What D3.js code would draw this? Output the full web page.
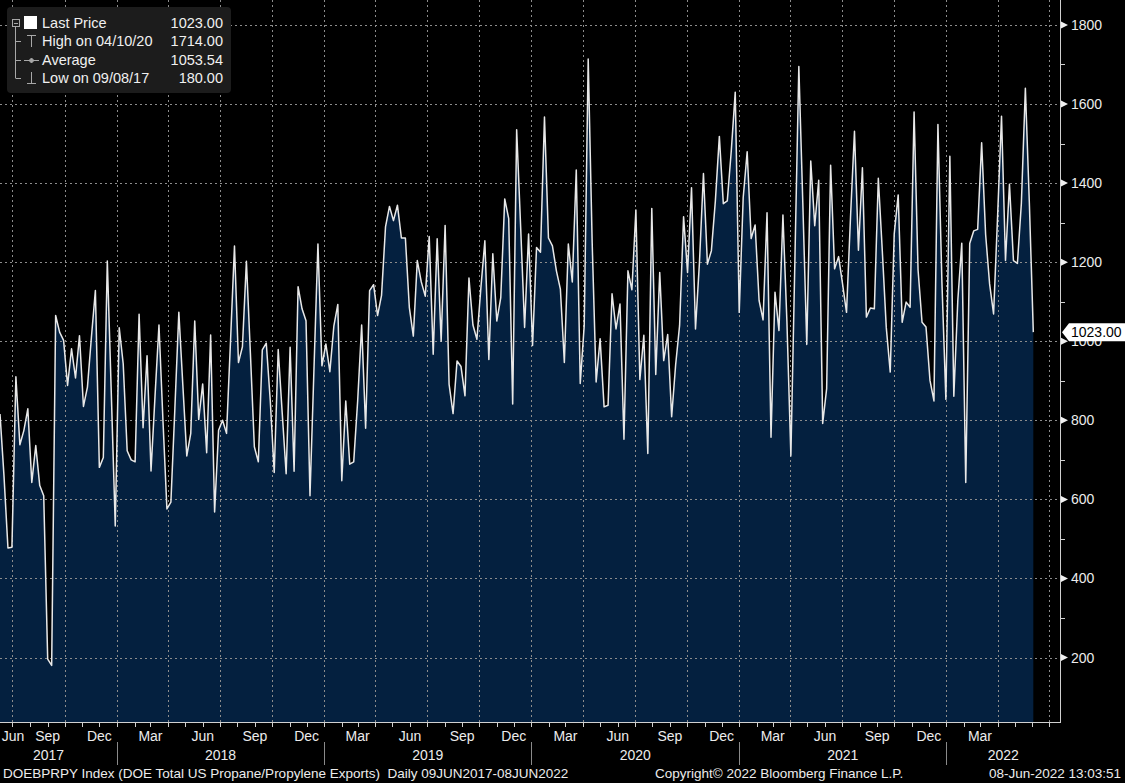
<!DOCTYPE html>
<html>
<head>
<meta http-equiv="Content-Type" content="text/html;charset=utf-8">
<script type="text/javascript" src="https://cdn.jsdelivr.net/npm/d3@7"></script>
<style>
  body { margin: 0; background: #000; }
  svg { display: block; font-family: "Liberation Sans", Arial, sans-serif; }
</style>
</head>
<body>
<div id="chart"></div>
<script type="text/javascript">

// weekly DOE propane/propylene exports, first week ending 09 Jun 2017
var startDate = "2017-06-09";
var endDate = "2022-07-20";
var weeklyExports = [
  816, 660, 477, 479, 910, 738, 774, 829, 643, 736, 635, 609, 196, 180, 1065, 1023, 1002, 888, 981, 907,
  1014, 835, 884, 1010, 1128, 681, 706, 1203, 870, 533, 1034, 943, 723, 700, 695, 1068, 781, 963, 672, 860,
  1041, 800, 576, 593, 830, 1073, 890, 710, 767, 1051, 802, 892, 718, 1016, 568, 775, 800, 767, 1000, 1241,
  946, 986, 1202, 970, 733, 695, 978, 995, 850, 668, 979, 820, 665, 985, 671, 1138, 1082, 1052, 609, 930,
  1246, 938, 993, 923, 1038, 1093, 647, 849, 689, 695, 850, 1041, 780, 1128, 1143, 1065, 1116, 1289, 1341, 1305,
  1344, 1261, 1261, 1085, 1013, 1204, 1150, 1114, 1265, 967, 1259, 1000, 1293, 891, 817, 950, 936, 862, 1160, 1041,
  1005, 1135, 1254, 954, 1221, 1051, 1110, 1360, 1310, 841, 1535, 1290, 1035, 1271, 989, 1237, 1225, 1567, 1261, 1241,
  1178, 1132, 946, 1246, 1150, 1433, 893, 1040, 1714, 1250, 897, 1006, 834, 838, 1120, 1031, 1094, 752, 1178, 1130,
  1332, 903, 1015, 716, 1336, 916, 1174, 951, 1017, 809, 940, 1040, 1315, 1174, 1388, 1031, 1200, 1424, 1195, 1229,
  1355, 1518, 1348, 1355, 1481, 1630, 1073, 1363, 1479, 1260, 1294, 1103, 1054, 1325, 757, 1124, 1027, 1319, 1050, 710,
  1200, 1695, 1350, 992, 1456, 1292, 1407, 792, 880, 1445, 1183, 1214, 1145, 1073, 1313, 1531, 1230, 1439, 1061, 1084,
  1082, 1412, 1229, 1035, 922, 1271, 1370, 1048, 1099, 1086, 1580, 1180, 1048, 1036, 901, 849, 1548, 1150, 853, 1468,
  861, 1103, 1248, 643, 1247, 1279, 1283, 1502, 1270, 1145, 1069, 1313, 1569, 1204, 1397, 1204, 1197, 1350, 1640, 1350,
  1023
];

var yTicks = [200, 400, 600, 800, 1000, 1200, 1400, 1600, 1800];
var yMinorTicks = [300, 500, 700, 900, 1100, 1300, 1500, 1700];
var monthNames = ["Jan", "Feb", "Mar", "Apr", "May", "Jun", "Jul", "Aug", "Sep", "Oct", "Nov", "Dec"];
var labelMonths = [2, 5, 8, 11];

var legendLabels = ["Last Price", "High on 04/10/20", "Average", "Low on 09/08/17"];
var legendValues = ["1023.00", "1714.00", "1053.54", "180.00"];
var lastPrice = 1023;

var footerLeft = "DOEBPRPY Index (DOE Total US Propane/Propylene Exports)  Daily 09JUN2017-08JUN2022";
var footerMid = "Copyright\u00A9 2022 Bloomberg Finance L.P.";
var footerRight = "08-Jun-2022 13:03:51";

var width = 1125;
var height = 783;
var plotRight = 1060;
var plotBottom = 722;

var parse = d3.timeParse("%Y-%m-%d");
var t0 = parse(startDate);
var t1 = parse(endDate);

var data = weeklyExports.map(function (v, i) {
  return { date: d3.timeDay.offset(t0, 7 * i), value: v };
});
var lastDate = data[data.length - 1].date;

var x = d3.scaleTime().domain([t0, t1]).range([0, plotRight]);
var y = d3.scaleLinear().domain([37, 1863]).range([plotBottom, 0]);

var svg = d3.select("#chart").append("svg")
    .attr("width", width)
    .attr("height", height)
    .style("background", "#000");

// area under the line
var area = d3.area()
    .x(function (d) { return x(d.date); })
    .y0(plotBottom)
    .y1(function (d) { return y(d.value); });

svg.append("path")
    .datum(data)
    .attr("d", area)
    .attr("fill", "#04203f");

// dotted grid
var grid = svg.append("g")
    .attr("stroke", "#8c8c8c")
    .attr("stroke-width", 1)
    .attr("stroke-dasharray", "2,3");

grid.selectAll(".hgrid")
    .data(yTicks)
    .enter().append("line")
    .attr("class", "hgrid")
    .attr("x1", 0)
    .attr("x2", plotRight)
    .attr("y1", function (d) { return Math.round(y(d)) + 0.5; })
    .attr("y2", function (d) { return Math.round(y(d)) + 0.5; });

var quarters = d3.timeMonth.every(3).range(t0, t1);
grid.selectAll(".vgrid")
    .data(quarters)
    .enter().append("line")
    .attr("class", "vgrid")
    .attr("x1", function (d) { return Math.round(x(d)) + 0.5; })
    .attr("x2", function (d) { return Math.round(x(d)) + 0.5; })
    .attr("y1", 0)
    .attr("y2", plotBottom);

// price line
var line = d3.line()
    .x(function (d) { return x(d.date); })
    .y(function (d) { return y(d.value); });

svg.append("path")
    .datum(data)
    .attr("d", line)
    .attr("fill", "none")
    .attr("stroke", "#e8e8e8")
    .attr("stroke-width", 1.5)
    .attr("stroke-linejoin", "round");

// axes frame
svg.append("line")
    .attr("x1", plotRight + 0.5).attr("x2", plotRight + 0.5)
    .attr("y1", 0).attr("y2", plotBottom)
    .attr("stroke", "#d0d0d0");
svg.append("line")
    .attr("x1", 0).attr("x2", plotRight + 1)
    .attr("y1", plotBottom + 0.5).attr("y2", plotBottom + 0.5)
    .attr("stroke", "#d0d0d0");

// right axis ticks
svg.selectAll(".minor")
    .data(yMinorTicks)
    .enter().append("line")
    .attr("x1", plotRight)
    .attr("x2", plotRight + 5)
    .attr("y1", function (d) { return Math.round(y(d)) + 0.5; })
    .attr("y2", function (d) { return Math.round(y(d)) + 0.5; })
    .attr("stroke", "#d0d0d0");

svg.selectAll(".major")
    .data(yTicks)
    .enter().append("path")
    .attr("d", function (d) {
      var yy = y(d);
      return "M" + (plotRight + 1) + "," + (yy - 3.5) + "L" + (plotRight + 8) + "," + yy + "L" + (plotRight + 1) + "," + (yy + 3.5) + "Z";
    })
    .attr("fill", "#f0f0f0");

// the 1000 label sits under the last price tag, as in the original
svg.selectAll(".ylab")
    .data(yTicks)
    .enter().append("text")
    .attr("x", plotRight + 11)
    .attr("y", function (d) { return y(d) + 5; })
    .attr("fill", "#ececec")
    .attr("font-size", 14)
    .text(function (d) { return d; });

// last price tag
var ly = y(lastPrice);
svg.append("path")
    .attr("d", "M" + (plotRight + 2) + "," + ly + "L" + (plotRight + 9) + "," + (ly - 9) +
      "L" + width + "," + (ly - 9) + "L" + width + "," + (ly + 9) + "L" + (plotRight + 9) + "," + (ly + 9) + "Z")
    .attr("fill", "#ffffff");
svg.append("text")
    .attr("x", plotRight + 11)
    .attr("y", ly + 5)
    .attr("fill", "#000")
    .attr("font-size", 14)
    .text(d3.format(".2f")(lastPrice));

// bottom axis: month ticks, labels, years
var months = d3.timeMonth.range(t0, t1);
svg.selectAll(".mtick")
    .data(months)
    .enter().append("line")
    .attr("x1", function (d) { return Math.round(x(d)) + 0.5; })
    .attr("x2", function (d) { return Math.round(x(d)) + 0.5; })
    .attr("y1", plotBottom)
    .attr("y2", plotBottom + 5)
    .attr("stroke", "#d0d0d0");

var shownMonths = [d3.timeMonth.floor(t0)].concat(months).filter(function (d) {
  return labelMonths.indexOf(d.getMonth()) >= 0 && d < d3.timeMonth.offset(lastDate, -1);
});
svg.selectAll(".mlab")
    .data(shownMonths)
    .enter().append("text")
    .attr("x", function (d) { return Math.max(x(d), 13); })
    .attr("y", plotBottom + 19)
    .attr("text-anchor", "middle")
    .attr("fill", "#ececec")
    .attr("font-size", 14)
    .text(function (d) { return monthNames[d.getMonth()]; });

var years = d3.range(t0.getFullYear(), t1.getFullYear() + 1);
svg.selectAll(".ylabel")
    .data(years)
    .enter().append("text")
    .attr("x", function (yr) {
      var a = Math.max(-20, x(new Date(yr, 0, 1)));
      var b = Math.min(plotRight, x(new Date(yr + 1, 0, 1)));
      return (a + b) / 2;
    })
    .attr("y", plotBottom + 38)
    .attr("text-anchor", "middle")
    .attr("fill", "#ececec")
    .attr("font-size", 14)
    .text(function (yr) { return yr; });

svg.selectAll(".ysep")
    .data(d3.timeYear.range(t0, t1))
    .enter().append("line")
    .attr("x1", function (d) { return Math.round(x(d)) + 0.5; })
    .attr("x2", function (d) { return Math.round(x(d)) + 0.5; })
    .attr("y1", plotBottom + 20)
    .attr("y2", plotBottom + 43)
    .attr("stroke", "#8a8a8a");

// footer
var footer = svg.append("g")
    .attr("fill", "#ececec")
    .attr("font-size", 13.5);
footer.append("text").attr("x", 3).attr("y", 778).attr("xml:space", "preserve").text(footerLeft);
footer.append("text").attr("x", 655).attr("y", 778).text(footerMid);
footer.append("text").attr("x", 1121).attr("y", 778).attr("text-anchor", "end").text(footerRight);

// legend
var legend = svg.append("g");
legend.append("rect")
    .attr("x", 7).attr("y", 7)
    .attr("width", 224).attr("height", 86)
    .attr("rx", 4)
    .attr("fill", "#1c1c1c");

var rowY = [23, 41, 60, 78];
var sym = legend.append("g").attr("stroke", "#a8a8a8").attr("fill", "none").attr("stroke-width", 1);
sym.append("rect").attr("x", 12.5).attr("y", rowY[0] - 3.5).attr("width", 7).attr("height", 7);
sym.append("line").attr("x1", 14).attr("x2", 18).attr("y1", rowY[0] + 0.5).attr("y2", rowY[0] + 0.5);
sym.append("line").attr("x1", 15.5).attr("x2", 15.5).attr("y1", rowY[0] + 4).attr("y2", rowY[3]);
[1, 2, 3].forEach(function (k) {
  sym.append("line").attr("x1", 15.5).attr("x2", 21).attr("y1", rowY[k] + 0.5).attr("y2", rowY[k] + 0.5);
});
// high marker
sym.append("line").attr("x1", 27).attr("x2", 36).attr("y1", rowY[1] - 5.5).attr("y2", rowY[1] - 5.5);
sym.append("line").attr("x1", 31.5).attr("x2", 31.5).attr("y1", rowY[1] - 5).attr("y2", rowY[1] + 6);
// average marker
sym.append("line").attr("x1", 24).attr("x2", 39).attr("y1", rowY[2] + 0.5).attr("y2", rowY[2] + 0.5);
sym.append("path").attr("d", "M29," + (rowY[2] + 0.5) + "l2.5,-2.5l2.5,2.5l-2.5,2.5z").attr("fill", "#a8a8a8");
// low marker
sym.append("line").attr("x1", 31.5).attr("x2", 31.5).attr("y1", rowY[3] - 6).attr("y2", rowY[3] + 5);
sym.append("line").attr("x1", 27).attr("x2", 36).attr("y1", rowY[3] + 5.5).attr("y2", rowY[3] + 5.5);

legend.append("rect")
    .attr("x", 24).attr("y", rowY[0] - 7)
    .attr("width", 13).attr("height", 13)
    .attr("fill", "#ffffff");

legend.selectAll(".lgl")
    .data(legendLabels)
    .enter().append("text")
    .attr("x", 42)
    .attr("y", function (d, i) { return rowY[i] + 5; })
    .attr("fill", "#f0f0f0")
    .attr("font-size", 14.5)
    .text(function (d) { return d; });

legend.selectAll(".lgv")
    .data(legendValues)
    .enter().append("text")
    .attr("x", 223)
    .attr("y", function (d, i) { return rowY[i] + 5; })
    .attr("text-anchor", "end")
    .attr("fill", "#f0f0f0")
    .attr("font-size", 14.5)
    .text(function (d) { return d; });

</script>
</body>
</html>
